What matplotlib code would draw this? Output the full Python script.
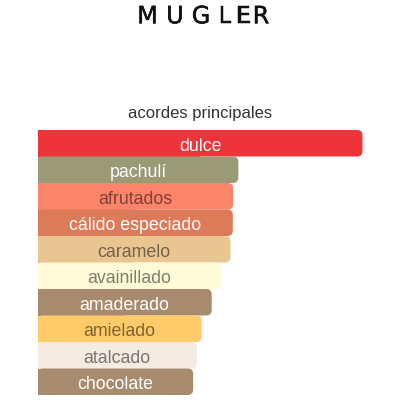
import matplotlib
matplotlib.use("Agg")
import matplotlib.pyplot as plt
import matplotlib.patheffects as pe
from matplotlib.patches import FancyBboxPatch

# ---- data ----
accords = ["dulce", "pachulí", "afrutados", "cálido especiado", "caramelo",
           "avainillado", "amaderado", "amielado", "atalcado", "chocolate"]
values = [100, 61.8, 60.2, 60.1, 59.4, 56.7, 53.6, 50.5, 49.0, 47.9]
bar_colors = ["#EE343A", "#9A9A76", "#FC846B", "#DD7A5A", "#E9C591",
              "#FFFBD8", "#A88B6F", "#FFCA6A", "#F4EBE3", "#A88B6F"]
text_light = [True, True, False, True, False, False, True, False, False, True]
brand = "MUGLER"
title = "acordes principales"

W, H = 400, 400
fig = plt.figure(figsize=(4, 4), dpi=100)
fig.patch.set_facecolor("white")

# bar axes geometry (pixels)
left_px, right_px = 37.5, 362.5
top_px, bottom_px = 130.0, 395.0
ax = fig.add_axes([left_px / W, 1 - bottom_px / H,
                   (right_px - left_px) / W, (bottom_px - top_px) / H])
n = len(accords)
ax.set_xlim(0, 100)
ax.set_ylim(n, 0)
ax.axis("off")

px_per_x = (right_px - left_px) / 100.0
px_per_y = (bottom_px - top_px) / n
r_px = 5.5
r_x = r_px / px_per_x
aspect = (r_px / px_per_y) / r_x

for i, (lab, v, c, light) in enumerate(zip(accords, values, bar_colors, text_light)):
    ax.barh(i, v / 2, height=1.0, left=0, align="edge", color=c,
            edgecolor="none", linewidth=0)
    p = FancyBboxPatch((0, i), v, 1.0,
                       boxstyle=f"round,pad=0,rounding_size={r_x}",
                       mutation_aspect=aspect, facecolor=c, edgecolor="none",
                       linewidth=0)
    ax.add_patch(p)
    if light:
        tc, ta = "white", 1.0
    else:
        tc, ta = "black", 0.5
    ax.text(v / 2, i + 1 - 5.8 / px_per_y, lab, ha="center", va="baseline",
            fontsize=12.8, family="Liberation Sans", color=tc, alpha=ta)

# brand letters
letter_x = [147.5, 175.0, 201.0, 225.0, 243.5, 261.0]
for ch, xp in zip(brand, letter_x):
    fig.text(xp / W, 1 - 23.3 / H, ch, ha="center", va="baseline",
             fontsize=17.2, family="DejaVu Sans", color="#111111",
             path_effects=[pe.withStroke(linewidth=0.35, foreground="#111111")])

fig.text(200 / W, 1 - 118.3 / H, title, ha="center", va="baseline",
         fontsize=12.0, family="Liberation Sans", color="#333333")

fig.savefig("out.png", dpi=100, facecolor="white")
